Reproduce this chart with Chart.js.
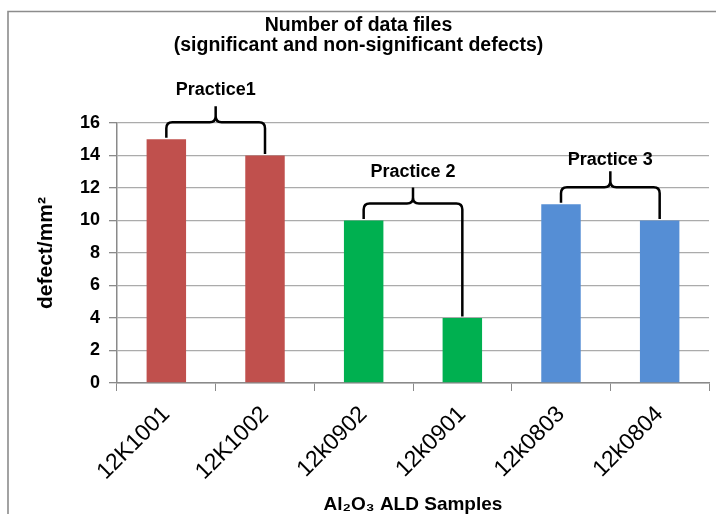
<!DOCTYPE html>
<html>
<head>
<meta charset="utf-8">
<script src="https://cdn.jsdelivr.net/npm/chart.js@4.4.1/dist/chart.umd.min.js"></script>
<style>
  html, body { margin: 0; padding: 0; background: #ffffff; overflow: hidden; }
  #c { display: block; }
</style>
</head>
<body>
<canvas id="c" width="716" height="514"></canvas>
<script>
// ---- data ----
const categories = ['12K1001', '12K1002', '12k0902', '12k0901', '12k0803', '12k0804'];
const defectValues = [15, 14, 10, 4, 11, 10];
const barColors = ['#C0504D', '#C0504D', '#00B050', '#00B050', '#558ED5', '#558ED5'];
const yTickValues = [0, 2, 4, 6, 8, 10, 12, 14, 16];
const groupLabels = ['Practice1', 'Practice 2', 'Practice 3'];
const groupFirst = [0, 2, 4];
const groupLast = [1, 3, 5];
const titleLines = ['Number of data files', '(significant and non-significant defects)'];
const yTitle = 'defect/mm\u00B2';
const xTitle = 'Al\u2082O\u2083 ALD Samples';

const FONT = "'Liberation Sans', Arial, Helvetica, sans-serif";
const AXIS_GRAY = '#8a8a8a';
const GRID_GRAY = '#ababab';

// outer frame (left and top border of the original chart box)
const framePlugin = {
  id: 'frame',
  beforeDraw(chart) {
    const ctx = chart.ctx;
    ctx.save();
    ctx.fillStyle = '#ffffff';
    ctx.fillRect(0, 0, chart.width, chart.height);
    ctx.strokeStyle = '#8c8c8c';
    ctx.lineWidth = 1.6;
    ctx.beginPath();
    ctx.moveTo(8, chart.height);
    ctx.lineTo(8, 11.5);
    ctx.lineTo(chart.width, 11.5);
    ctx.stroke();
    ctx.restore();
  }
};

// curly brackets grouping bars
const bracketPlugin = {
  id: 'brackets',
  afterDatasetsDraw(chart) {
    const ctx = chart.ctx;
    const meta = chart.getDatasetMeta(0);
    const gap = 17, peak = 16, r = 6;
    const labelGaps = [32, 31, 27];
    ctx.save();
    ctx.strokeStyle = '#000000';
    ctx.lineWidth = 2.5;
    ctx.lineJoin = 'round';
    for (let g = 0; g < groupLabels.length; g++) {
      const a = meta.data[groupFirst[g]];
      const b = meta.data[groupLast[g]];
      const xL = a.x, xR = b.x;
      const topL = a.y, topR = b.y;
      const yB = Math.min(topL, topR) - gap;
      const xc = (xL + xR) / 2;
      ctx.beginPath();
      ctx.moveTo(xL, topL - 1.5);
      ctx.lineTo(xL, yB + r);
      ctx.quadraticCurveTo(xL, yB, xL + r, yB);
      ctx.lineTo(xc - r, yB);
      ctx.quadraticCurveTo(xc, yB, xc, yB - r);
      ctx.lineTo(xc, yB - peak);
      ctx.moveTo(xc, yB - r);
      ctx.quadraticCurveTo(xc, yB, xc + r, yB);
      ctx.lineTo(xR - r, yB);
      ctx.quadraticCurveTo(xR, yB, xR, yB + r);
      ctx.lineTo(xR, topR - 1.5);
      ctx.stroke();
      ctx.fillStyle = '#000000';
      ctx.font = 'bold 18px ' + FONT;
      ctx.textAlign = 'center';
      ctx.textBaseline = 'middle';
      ctx.fillText(groupLabels[g], xc, yB - labelGaps[g]);
    }
    ctx.restore();
  }
};

new Chart(document.getElementById('c'), {
  type: 'bar',
  data: {
    labels: categories,
    datasets: [{
      data: defectValues,
      backgroundColor: barColors,
      borderWidth: 0,
      barPercentage: 0.4,
      categoryPercentage: 1.0
    }]
  },
  options: {
    responsive: false,
    animation: false,
    devicePixelRatio: 1,
    layout: { autoPadding: false, padding: { left: 8, right: 7, top: 0, bottom: 0 } },
    plugins: {
      legend: { display: false },
      tooltip: { enabled: false },
      title: {
        display: true,
        text: titleLines,
        color: '#000000',
        font: { family: FONT, size: 19.5, weight: 'bold', lineHeight: 20 / 19.5 },
        padding: { top: 16, bottom: 67 }
      }
    },
    scales: {
      x: {
        grid: { display: true, drawOnChartArea: false, drawTicks: true, tickLength: 8, color: AXIS_GRAY, offset: true },
        border: { display: true, color: AXIS_GRAY, width: 1.5 },
        ticks: { color: '#000000', font: { family: FONT, size: 23 }, minRotation: 45, maxRotation: 45, padding: 10 },
        title: { display: true, text: xTitle, color: '#000000', font: { family: FONT, size: 19, weight: 'bold', lineHeight: 1.0 }, padding: { top: 0, bottom: 0 } },
        afterFit(scale) { scale.height = 131; }
      },
      y: {
        min: 0,
        max: 16,
        afterBuildTicks(scale) { scale.ticks = yTickValues.map(v => ({ value: v })); },
        grid: { color: GRID_GRAY, lineWidth: 1.3, tickLength: 8, tickColor: AXIS_GRAY, drawTicks: true },
        border: { display: true, color: AXIS_GRAY, width: 1.5 },
        ticks: { color: '#000000', font: { family: FONT, size: 18, weight: 'bold' }, padding: 9 },
        title: { display: true, text: yTitle, color: '#000000', font: { family: FONT, size: 21, weight: 'bold', lineHeight: 1.2 }, padding: { top: 26, bottom: 0 } },
        afterFit(scale) { scale.width = 109; }
      }
    }
  },
  plugins: [framePlugin, bracketPlugin]
});
</script>
</body>
</html>
